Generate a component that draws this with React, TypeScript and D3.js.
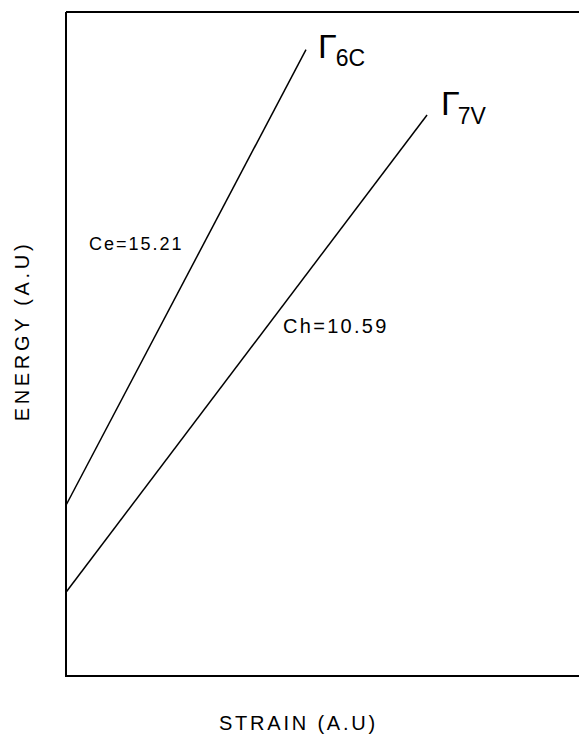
import React from "react";
import * as d3 from "d3";

// Band-edge energies versus strain (arbitrary units)
const strainDomain = [0, 1];
const energyDomain = [0, 10.15];

const gamma6cStrain = [0, 0.458];
const gamma6cEnergy = [2.61, 2.61 + 15.21 * 0.458];

const gamma7vStrain = [0, 0.689];
const gamma7vEnergy = [1.28, 1.28 + 10.59 * 0.689];

const slopeLabels = ["Ce=15.21", "Ch=10.59"];
const bandNames = [
  { main: "\u0393", sub: "6C" },
  { main: "\u0393", sub: "7V" },
];

const W = 579;
const H = 735;
const margin = { left: 66, top: 12, right: -11, bottom: 59 };

export default function App() {
  const x = d3
    .scaleLinear()
    .domain(strainDomain)
    .range([margin.left, W - margin.right]);
  const y = d3
    .scaleLinear()
    .domain(energyDomain)
    .range([H - margin.bottom, margin.top]);

  const line = d3
    .line<[number, number]>()
    .x((d) => x(d[0]))
    .y((d) => y(d[1]));

  const l6 = gamma6cStrain.map((s, i) => [s, gamma6cEnergy[i]] as [number, number]);
  const l7 = gamma7vStrain.map((s, i) => [s, gamma7vEnergy[i]] as [number, number]);

  const font = "'Liberation Sans', Arial, sans-serif";
  const end6 = l6[1];
  const end7 = l7[1];

  return (
    <svg
      width={W}
      height={H}
      style={{ position: "absolute", left: 0, top: 0, background: "#fff" }}
      fontFamily={font}
    >
      {/* frame */}
      <path
        d={`M${x(0)},${y(energyDomain[1])} L${x(1) + 20},${y(energyDomain[1])} M${x(0)},${y(energyDomain[1])} L${x(0)},${y(0)} L${x(1) + 20},${y(0)}`}
        fill="none"
        stroke="#000"
        strokeWidth={2}
      />
      <path d={line(l6) || ""} fill="none" stroke="#000" strokeWidth={1.5} />
      <path d={line(l7) || ""} fill="none" stroke="#000" strokeWidth={1.5} />

      {/* band labels */}
      <text x={x(end6[0]) + 12} y={y(end6[1]) + 8} fontSize={34} fill="#000">
        {bandNames[0].main}
        <tspan dx={-1} dy={8} fontSize={23}>
          {bandNames[0].sub}
        </tspan>
      </text>
      <text x={x(end7[0]) + 14} y={y(end7[1])} fontSize={34} fill="#000">
        {bandNames[1].main}
        <tspan dx={-2} dy={9} fontSize={23}>
          {bandNames[1].sub}
        </tspan>
      </text>

      {/* slope labels */}
      <text x={89} y={250} fontSize={18} letterSpacing={2} fill="#000">
        {slopeLabels[0]}
      </text>
      <text x={283} y={333} fontSize={20} letterSpacing={2.3} fill="#000">
        {slopeLabels[1]}
      </text>

      {/* axis titles */}
      <text
        x={(W + margin.left) / 2 - 24}
        y={730}
        textAnchor="middle"
        fontSize={20}
        letterSpacing={2.8}
        fill="#000"
      >
        STRAIN (A.U)
      </text>
      <text
        transform={`translate(29,331) rotate(-90)`}
        textAnchor="middle"
        fontSize={20}
        letterSpacing={3.7}
        fill="#000"
      >
        ENERGY (A.U)
      </text>
    </svg>
  );
}
